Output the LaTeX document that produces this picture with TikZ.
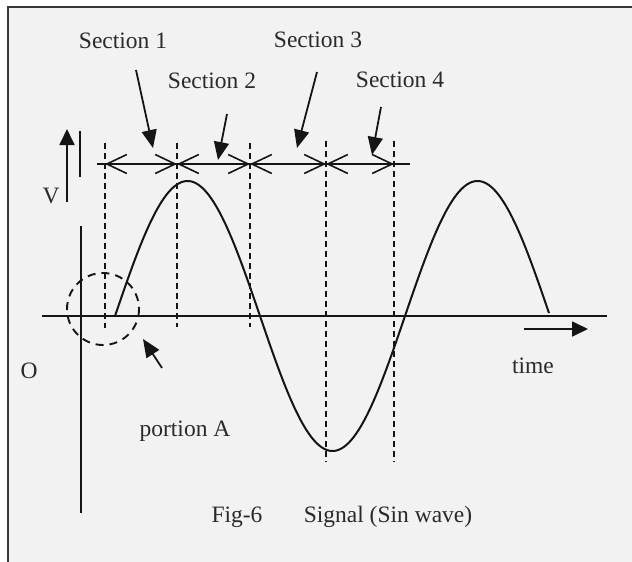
\documentclass[tikz,border=0pt]{standalone}
\usepackage{fontspec}
\setmainfont{Liberation Serif}
\usetikzlibrary{arrows.meta}
\definecolor{bg}{HTML}{F2F2F2}
\definecolor{ink}{HTML}{151515}
\definecolor{txt}{HTML}{2A2A2A}
\begin{document}
\begin{tikzpicture}[x=1pt,y=-1pt,
  lbl/.style={anchor=base,text=txt,font=\fontsize{23.5}{28}\selectfont,inner sep=0pt},
  ln/.style={draw=ink,line width=1.8pt},
  guide/.style={draw=ink,line width=1.7pt,dash pattern=on 6pt off 4pt},
  ptr/.style={draw=ink,line width=1.8pt,-{Triangle[length=18pt,width=15pt]}},
  dim/.style={draw=ink,line width=1.6pt,{Straight Barb[length=20pt,width=19pt]}-{Straight Barb[length=20pt,width=19pt]}}]
\useasboundingbox (0,0) rectangle (632,562);
\fill[white] (0,0) rectangle (632,562);
\fill[bg] (8,7) rectangle (632,562);
\draw[draw=ink!85,line width=2pt] (8,562) -- (8,7) -- (632,7);
% axes
\coordinate (hx0) at (42,316); \coordinate (hx1) at (607,316);
\coordinate (vy0) at (81,226); \coordinate (vy1) at (81,513);
\draw[ln] (hx0) -- (hx1);
\draw[ln] (vy0) -- (vy1);
% sine wave
\draw[ln,line width=2pt] plot[domain=115:549,samples=240] (\x,{316-135*sin((\x-115)/290*360)});
% dashed guides
\coordinate (d1t) at (105,143); \coordinate (d1b) at (105,328);
\coordinate (d2t) at (177,143); \coordinate (d2b) at (177,327);
\coordinate (d3t) at (250,143); \coordinate (d3b) at (250,327);
\coordinate (d4t) at (326,141); \coordinate (d4b) at (326,462);
\coordinate (d5t) at (394,141); \coordinate (d5b) at (394,462);
\draw[guide] (d1t) -- (d1b);
\draw[guide] (d2t) -- (d2b);
\draw[guide] (d3t) -- (d3b);
\draw[guide] (d4t) -- (d4b);
\draw[guide] (d5t) -- (d5b);
% dimension line
\coordinate (m0) at (97,164); \coordinate (m6) at (410,164);
\coordinate (m1) at (105,164); \coordinate (m2) at (177,164);
\coordinate (m3) at (250,164); \coordinate (m4) at (326,164);
\coordinate (m5) at (394,164);
\draw[ln,line width=1.6pt] (m0) -- (m6);
\draw[dim] (m1) -- (m2);
\draw[dim] (m2) -- (m3);
\draw[dim] (m3) -- (m4);
\draw[dim] (m4) -- (m5);
% V arrow and bar
\coordinate (va0) at (67,202); \coordinate (va1) at (67,129);
\draw[ln,-{Triangle[length=16pt,width=15pt]}] (va0) -- (va1);
\coordinate (vb0) at (80,131); \coordinate (vb1) at (80,177);
\draw[ln,line width=2pt] (vb0) -- (vb1);
% dashed circle
\coordinate (pc) at (103,309);
\draw[ink,line width=1.9pt,dash pattern=on 8pt off 6pt] (pc) circle[radius=36];
% section labels and pointers
\node[lbl] (s1) at (123,48) {Section 1};
\node[lbl] (s2) at (212,88) {Section 2};
\node[lbl] (s3) at (318,47) {Section 3};
\node[lbl] (s4) at (400,87) {Section 4};
\coordinate (p1a) at (136,70);  \coordinate (p1b) at (153,148);
\coordinate (p2a) at (227,114); \coordinate (p2b) at (218,160);
\coordinate (p3a) at (317,72);  \coordinate (p3b) at (297,148);
\coordinate (p4a) at (381,107); \coordinate (p4b) at (372,155);
\draw[ptr] (p1a) -- (p1b);
\draw[ptr] (p2a) -- (p2b);
\draw[ptr] (p3a) -- (p3b);
\draw[ptr] (p4a) -- (p4b);
% portion A pointer
\coordinate (pa0) at (162,368); \coordinate (pa1) at (143,339);
\draw[ptr] (pa0) -- (pa1);
% time arrow
\coordinate (t0) at (524,329); \coordinate (t1) at (588,329);
\draw[ln,-{Triangle[length=16pt,width=15pt]}] (t0) -- (t1);
% other labels
\node[lbl] (vl) at (51,203) {V};
\node[lbl] (ol) at (29,378) {O};
\node[lbl] (tl) at (533,373) {time};
\node[lbl] (pl) at (185,436) {portion A};
\node[lbl] (fg) at (237,522) {Fig-6};
\node[lbl] (sg) at (388,522) {Signal (Sin wave)};
\end{tikzpicture}
\end{document}
